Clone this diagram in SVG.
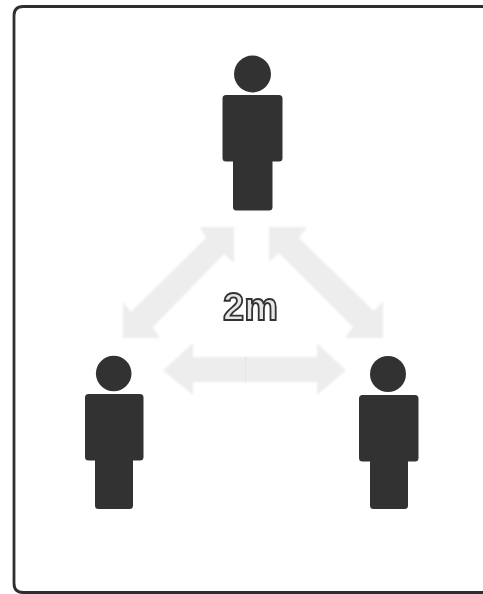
<svg xmlns="http://www.w3.org/2000/svg" width="483" height="594" viewBox="0 0 483 594">
  <defs>
    <filter id="soft" x="-5%" y="-5%" width="110%" height="110%"><feGaussianBlur stdDeviation="0.7"/></filter>
    <filter id="softer" x="-5%" y="-5%" width="110%" height="110%"><feGaussianBlur stdDeviation="1"/></filter>
  </defs>
  <style>
    .person { fill: #333333; filter: url(#soft); }
    .arrow { fill: #ededed; filter: url(#softer); }
    .frame { fill: none; stroke: #2e2e2e; stroke-width: 2.8; filter: url(#soft); }
    .label { font-family: "Liberation Sans", Arial, sans-serif; font-size: 38px; font-weight: 700; fill: #e6e6e6; stroke: #333333; stroke-width: 1.8; filter: url(#soft); }
  </style>
  <rect width="483" height="594" fill="#ffffff"/>
  <path id="frame" class="frame" d="M484 6.500H23Q14 6.500 14 15.500V583Q14 592.500 23 592.500H484"/>
  <g id="connectors">
    <path id="arrow-left" class="arrow" d="M234 227V263L224 254L153 327L160 338H123V302L131 312L206 238L200 227Z"/>
    <path id="arrow-right" class="arrow" d="M269 227V262L279 253L353 327L345 338H383V301L374 311L299 238L307 227Z"/>
    <path id="arrow-bottom" class="arrow" d="M163 370.500L193 343V357H317V343L346 370.500L317 395V382H193V395Z"/>
    <path d="M245.500 357V382" stroke="#e4e4e4" stroke-width="1" fill="none"/>
  </g>
  <g id="person-top" class="person">
    <circle cx="252.500" cy="74" r="18.500"/>
    <path d="M226 95H279Q282.500 95 282.500 98.500V158Q282.500 161.500 279 161.500H272.500V207Q272.500 210.500 269 210.500H236.500Q233 210.500 233 207V161.500H226Q222.500 161.500 222.500 158V98.500Q222.500 95 226 95Z"/>
  </g>
  <g id="person-left" class="person">
    <circle cx="113.700" cy="373.500" r="17.800"/>
    <path d="M88.500 394H140Q143.500 394 143.500 397.500V457Q143.500 460.500 140 460.500H133V505.500Q133 509 129.500 509H98.500Q95 509 95 505.500V460.500H88.500Q85 460.500 85 457V397.500Q85 394 88.500 394Z"/>
  </g>
  <g id="person-right" class="person">
    <circle cx="388" cy="374" r="18"/>
    <path d="M362.500 395H415Q418.500 395 418.500 398.500V458Q418.500 461.500 415 461.500H408V505.500Q408 509 404.500 509H373.500Q370 509 370 505.500V461.500H362.500Q359 461.500 359 458V398.500Q359 395 362.500 395Z"/>
  </g>
  <g id="distance-label">
    <text class="label" x="223" y="320">2m</text>
  </g>
</svg>
